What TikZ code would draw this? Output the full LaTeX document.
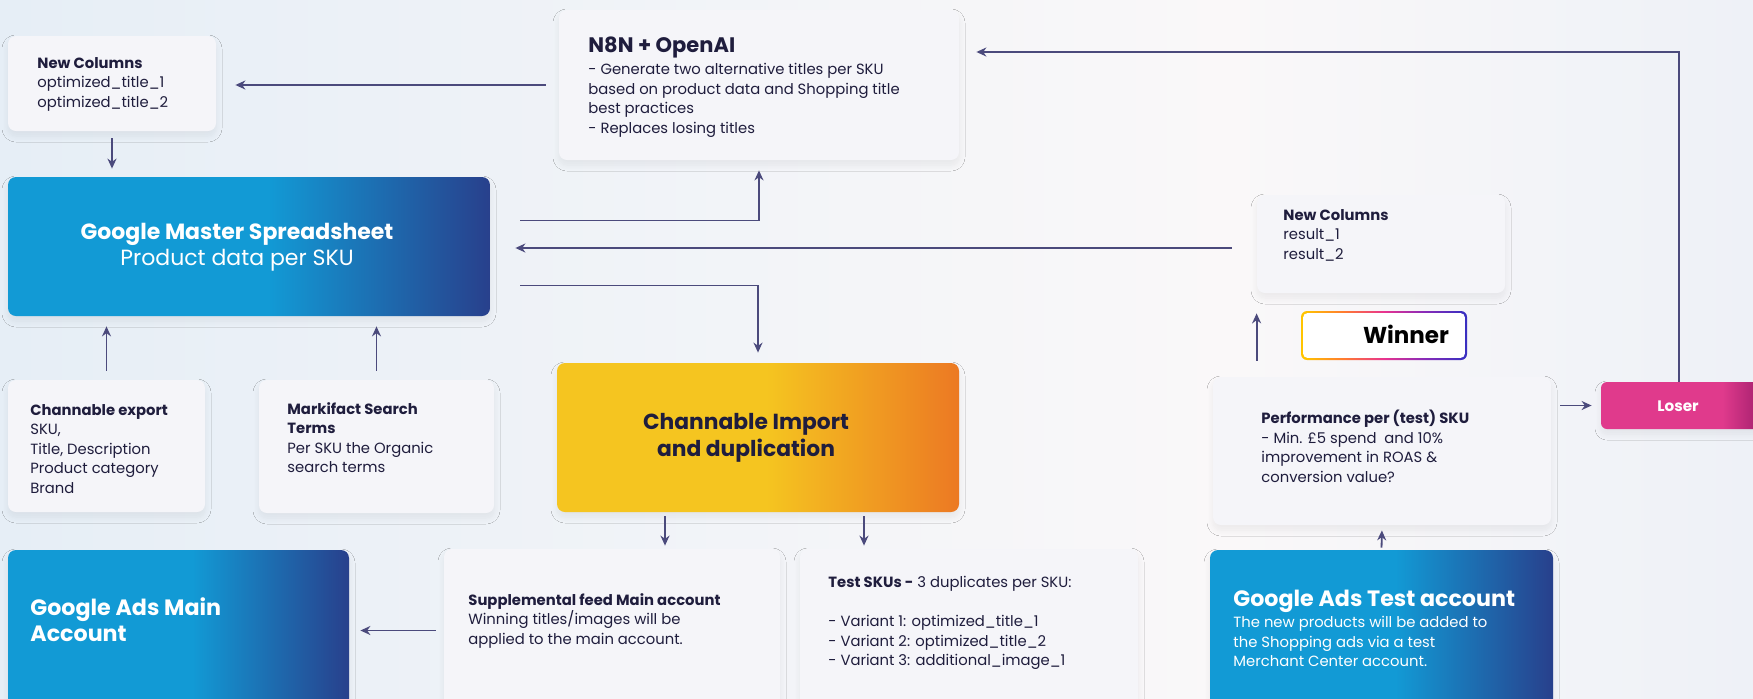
\documentclass[tikz,border=0pt]{standalone}
\usepackage{fontspec}
\setmainfont{Poppins}
\usepackage{xcolor}
\usepackage{tikz}
\usetikzlibrary{positioning,calc,arrows.meta,shadows.blur}
\definecolor{ink}{HTML}{1F1D3D}
\definecolor{wire}{HTML}{4B4A7C}
\definecolor{cardfill}{HTML}{F5F5F9}
\definecolor{gblue}{HTML}{129AD5}
\definecolor{gnavy}{HTML}{28408C}
\definecolor{amber}{HTML}{F5C520}
\definecolor{tangerine}{HTML}{EC7923}
\definecolor{rose}{HTML}{E03A8C}
\definecolor{plum}{HTML}{9E1D6B}
\definecolor{bgleft}{HTML}{E6EEF6}
\definecolor{bgmid}{HTML}{FAF8F9}
\definecolor{bgright}{HTML}{EEF1F7}
\definecolor{wyellow}{HTML}{FFC400}
\definecolor{worange}{HTML}{FF7A30}
\definecolor{wpink}{HTML}{E8338F}
\definecolor{wpurple}{HTML}{8A2BB8}
\definecolor{wblue}{HTML}{3A2FC0}
\pgfdeclarehorizontalshading{bluefade}{100bp}{color(0bp)=(gblue); color(52bp)=(gblue); color(75bp)=(gnavy); color(100bp)=(gnavy)}
\pgfdeclarehorizontalshading{sunfade}{100bp}{color(0bp)=(amber); color(51bp)=(amber); color(75bp)=(tangerine); color(100bp)=(tangerine)}
\pgfdeclarehorizontalshading{rosefade}{100bp}{color(0bp)=(rose); color(62bp)=(rose); color(75bp)=(plum); color(100bp)=(plum)}
\pgfdeclarehorizontalshading{winfade}{100bp}{color(0bp)=(wyellow); color(26bp)=(wyellow); color(38bp)=(worange); color(50bp)=(wpink); color(62bp)=(wpurple); color(74bp)=(wblue); color(100bp)=(wblue)}
\pgfdeclarehorizontalshading{skyfade}{100bp}{color(0bp)=(bgleft); color(25bp)=(bgleft); color(60bp)=(bgmid); color(75bp)=(bgright); color(100bp)=(bgright)}

\begin{document}
\begin{tikzpicture}[x=0.5pt, y=-0.5pt,
  soft/.style={blur shadow={shadow xshift=0pt, shadow yshift=-2.5pt,
               shadow blur radius=3pt, shadow blur steps=10, shadow opacity=6}},
  card/.style={fill=cardfill, rounded corners=4pt, inner sep=0pt, soft},
  bluecard/.style={shade, shading=bluefade, rounded corners=4pt, inner sep=0pt, soft},
  txt/.style={text=ink, align=left, inner sep=0pt, anchor=north west,
              font=\fontsize{7.4}{9.75}\selectfont},
  wtxt/.style={txt, text=white},
  arr/.style={draw=wire, line width=0.9pt, -{Stealth[length=5pt,width=4.5pt]}}
]
  % Background
  \useasboundingbox (0,0) rectangle (1753,698);
  \shade[shading=skyfade] (0,0) rectangle (1753,698);

  % Top row
  \node[card, minimum width=104pt, minimum height=47.5pt] (nca) at (112,83.5) {};
  \node[txt] (nca-t) at (37,57) {\textbf{New Columns}\\optimized\_title\_1\\optimized\_title\_2};
  \node[card, minimum width=200pt, minimum height=75pt] (naio) at (759,85) {};
  \node[txt, anchor=base west] (naio-h) at (588,52) {\fontsize{10.5}{12}\selectfont\textbf{N8N + OpenAI}};
  \node[txt] (naio-t) at (588,63) {- Generate two alternative titles per SKU\\based on product data and Shopping title\\best practices\\- Replaces losing titles};

  % Master sheet
  \node[bluecard, minimum width=241pt, minimum height=69.5pt] (master) at (249,246.5) {};
  \node[wtxt, anchor=center, align=center, font=\fontsize{11}{13}\selectfont] (master-t) at (237,247)
       {\textbf{Google Master Spreadsheet}\\Product data per SKU};

  % Sources
  \node[card, minimum width=98.5pt, minimum height=66pt] (chex) at (106.5,446) {};
  \node[txt] (chex-t) at (30,404) {\textbf{Channable export}\\SKU,\\Title, Description\\Product category\\Brand};
  \node[card, minimum width=117.5pt, minimum height=66.5pt] (mkf) at (376.5,446.5) {};
  \node[txt] (mkf-t) at (287,402) {\textbf{Markifact Search}\\\textbf{Terms}\\Per SKU the Organic\\search terms};

  % Channable
  \node[shade, shading=sunfade, rounded corners=4pt, inner sep=0pt, soft,
        minimum width=201pt, minimum height=74.5pt] (chim) at (758,437.5) {};
  \node[txt, anchor=center, align=center, font=\fontsize{10.9}{13.5}\selectfont\bfseries] (chim-t) at (746,438)
       {Channable Import\\and duplication};

  % Bottom row
  \node[bluecard, minimum width=170.5pt, minimum height=81pt] (gmain) at (178.5,631) {};
  \node[wtxt, font=\fontsize{11.1}{13}\selectfont\bfseries] (gmain-t) at (30,597) {Google Ads Main\\Account};
  \node[card, minimum width=168pt, minimum height=81.5pt] (supp) at (612,630.5) {};
  \node[txt] (supp-t) at (468,593) {\textbf{Supplemental feed Main account}\\Winning titles/images will be\\applied to the main account.};
  \node[card, minimum width=169pt, minimum height=81.5pt] (test) at (969,630.5) {};
  \node[txt] (test-t) at (828,576) {\textbf{Test SKUs -} 3 duplicates per SKU:\\[9.75pt]- Variant 1: optimized\_title\_1\\- Variant 2: optimized\_title\_2\\- Variant 3: additional\_image\_1};
  \node[bluecard, minimum width=171.5pt, minimum height=81pt] (gtest) at (1381.5,631) {};
  \node[wtxt, anchor=base west, font=\fontsize{11.1}{13}\selectfont\bfseries] (gtest-h) at (1233,606) {Google Ads Test account};
  \node[wtxt] (gtest-t) at (1233,616) {The new products will be added to\\the Shopping ads via a test\\Merchant Center account.};

  % Right column
  \node[card, minimum width=124pt, minimum height=49pt] (ncb) at (1381,244) {};
  \node[txt] (ncb-t) at (1283,209) {\textbf{New Columns}\\result\_1\\result\_2};
  \node[shade, shading=winfade, rounded corners=3pt, inner sep=0pt,
        minimum width=83pt, minimum height=24.5pt] (winner) at (1384,335.5) {};
  \fill[white, rounded corners=2pt] ([shift={(1.3pt,-1.3pt)}]winner.north west)
       rectangle ([shift={(-1.3pt,1.3pt)}]winner.south east);
  \node[txt, anchor=center, text=black, font=\fontsize{11.5}{12}\selectfont\bfseries] (winner-t) at (1406,334) {Winner};
  \node[card, minimum width=169pt, minimum height=74pt] (perf) at (1382,451) {};
  \node[txt] (perf-t) at (1261,410) {\textbf{Performance per (test) SKU}\\- Min. £5 spend\ \ and 10\%\\improvement in ROAS \&\\conversion value?};
  \node[shade, shading=rosefade, rounded corners=3pt, inner sep=0pt, soft,
        minimum width=82pt, minimum height=23.5pt] (loser) at (1683,405.5) {};
  \node[txt, anchor=center, text=white, font=\fontsize{7.6}{9}\selectfont\bfseries] (loser-t) at (1678,406) {Loser};

  % Links - top
  \draw[arr, shorten <=6.5pt, shorten >=9.5pt] (naio.west) -- (naio.west -| nca.east);
  \draw[arr, shorten <=3.5pt, shorten >=4pt] (nca.south) -- (nca.south |- master.north);
  \draw[arr, shorten <=15pt, shorten >=5pt] ([yshift=13pt]master.east) -| (naio.south);
  \draw[arr, shorten <=12.5pt, shorten >=12.5pt] ([yshift=-2pt]ncb.west) -- ([yshift=-2pt]ncb.west -| master.east);
  \draw[arr, shorten <=15pt, shorten >=5pt] ([yshift=-19.5pt]master.east) -| (chim.north);

  % Links - sources
  \draw[arr, shorten <=4.5pt, shorten >=5pt] (chex.north) -- (chex.north |- master.south);
  \draw[arr, shorten <=4.5pt, shorten >=5pt] (mkf.north) -- (mkf.north |- master.south);

  % Links - bottom
  \draw[arr, shorten <=2pt, shorten >=1.5pt] ([xshift=-46.5pt]chim.south) -- ([xshift=-46.5pt]chim.south |- supp.north);
  \draw[arr, shorten <=2pt, shorten >=1.5pt] ([xshift=53pt]chim.south) -- ([xshift=53pt]chim.south |- test.north);
  \draw[arr, shorten <=4pt, shorten >=5.5pt] (supp.west) -- (supp.west -| gmain.east);

  % Links - test loop
  \draw[arr, shorten <=1pt, shorten >=2.5pt] (gtest.north) -- (perf.south);
  \draw[arr, shorten <=8pt, shorten >=10pt] (ncb.south west |- perf.north) -- (ncb.south west);
  \draw[arr, shorten <=4.5pt, shorten >=4.5pt] (loser.west -| perf.east) -- (loser.west);
  \draw[arr, shorten >=8.5pt] ([xshift=-2pt]loser.north) |- ([yshift=16.5pt]naio.east);
\end{tikzpicture}
\end{document}
